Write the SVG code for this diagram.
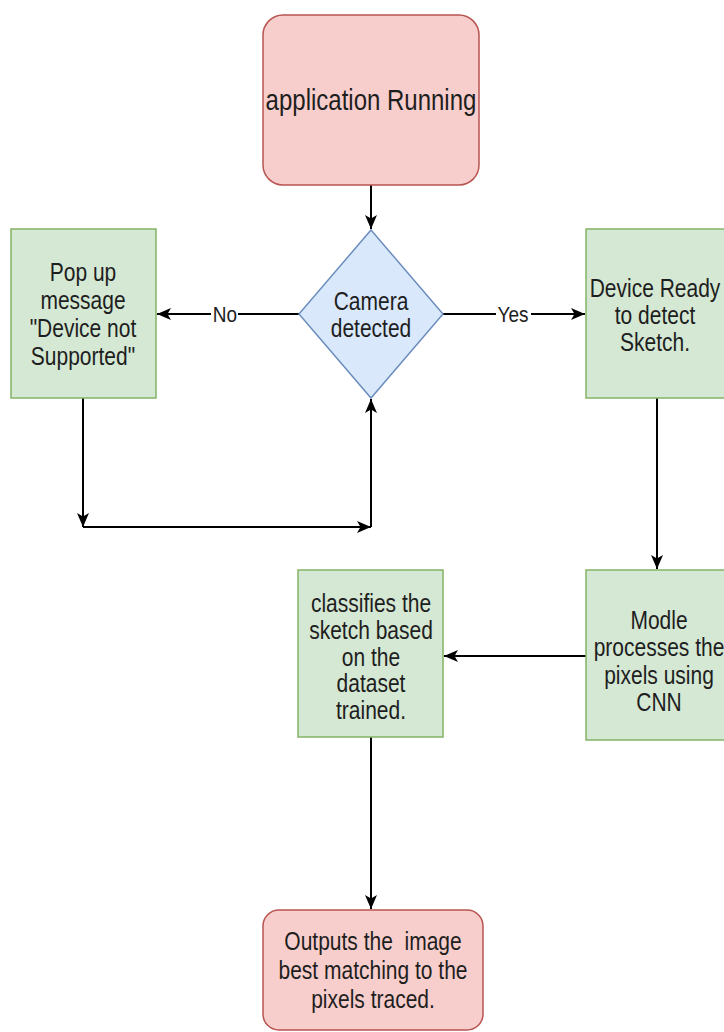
<svg xmlns="http://www.w3.org/2000/svg" width="724" height="1032" viewBox="0 0 724 1032">
<defs>
<style>
.t{font-family:"Liberation Sans",Arial,sans-serif;font-size:21px;fill:#1e1e1e;text-anchor:middle;dominant-baseline:central}
.lbl{font-family:"Liberation Sans",Arial,sans-serif;font-size:19px;fill:#1e1e1e;text-anchor:middle;dominant-baseline:central}
.red{fill:#f8cecc;stroke:#b85450;stroke-width:1.5}
.green{fill:#d5e8d4;stroke:#82b366;stroke-width:1.5}
.blue{fill:#dae8fc;stroke:#6c8ebf;stroke-width:1.5}
.edge{fill:none;stroke:#000;stroke-width:2}
</style>
<marker id="arr" markerUnits="userSpaceOnUse" markerWidth="15" markerHeight="13" refX="14" refY="6" orient="auto">
<path d="M0,0 L14,6 L0,12 L3.5,6 z" fill="#000"/>
</marker>
</defs>
<rect width="724" height="1032" fill="#fff"/>

<g id="connectors">
<path class="edge" d="M371,185 L371,229" marker-end="url(#arr)"/>
<path class="edge" d="M299,314 L157,314" marker-end="url(#arr)"/>
<path class="edge" d="M443,314 L585,314" marker-end="url(#arr)"/>
<path class="edge" d="M83,398 L83,527" marker-end="url(#arr)"/>
<path class="edge" d="M83,527 L371,527" marker-end="url(#arr)"/>
<path class="edge" d="M371,527 L371,399" marker-end="url(#arr)"/>
<path class="edge" d="M657,398 L657,569" marker-end="url(#arr)"/>
<path class="edge" d="M586,656 L444,656" marker-end="url(#arr)"/>
<path class="edge" d="M371,737 L371,909" marker-end="url(#arr)"/>
<rect x="211" y="300" width="27" height="28" fill="#fff"/>
<text class="lbl" transform="scale(1,1.2)" x="225" y="261.67">No</text>
<rect x="496" y="300" width="35" height="28" fill="#fff"/>
<text class="lbl" transform="scale(1,1.2)" x="513" y="261.67">Yes</text>
</g>

<g id="node-app-running">
<rect class="red" x="263" y="15" width="216" height="170" rx="20"/>
<text class="t" transform="scale(1,1.2)" x="371" y="83.33" style="font-size:24px">application Running</text>
</g>

<g id="node-camera">
<polygon class="blue" points="371,230 443,314 371,398 299,314"/>
<text class="t" transform="scale(1,1.2)"><tspan x="371" y="250.83">Camera</tspan><tspan x="371" y="273.33">detected</tspan></text>
</g>

<g id="node-popup">
<rect class="green" x="11" y="229" width="145" height="169"/>
<text class="t" transform="scale(1,1.2)"><tspan x="83" y="226.67">Pop up</tspan><tspan x="83" y="250">message</tspan><tspan x="83" y="273.33">"Device not</tspan><tspan x="83" y="296.67">Supported"</tspan></text>
</g>

<g id="node-ready">
<rect class="green" x="586" y="229" width="140" height="169"/>
<text class="t" transform="scale(1,1.2)"><tspan x="655" y="240">Device Ready</tspan><tspan x="655" y="262.5">to detect</tspan><tspan x="655" y="285">Sketch.</tspan></text>
</g>

<g id="node-modle">
<rect class="green" x="586" y="570" width="140" height="170"/>
<text class="t" transform="scale(1,1.2)"><tspan x="659" y="516.67">Modle</tspan><tspan x="659" y="539.17">processes the</tspan><tspan x="659" y="562.5">pixels using</tspan><tspan x="659" y="585">CNN</tspan></text>
</g>

<g id="node-classify">
<rect class="green" x="298" y="570" width="145" height="167"/>
<text class="t" transform="scale(1,1.2)"><tspan x="371" y="502.5">classifies the</tspan><tspan x="371" y="525">sketch based</tspan><tspan x="371" y="547.5">on the</tspan><tspan x="371" y="569.17">dataset</tspan><tspan x="371" y="591.67">trained.</tspan></text>
</g>

<g id="node-output">
<rect class="red" x="263" y="910" width="220" height="120" rx="16"/>
<text class="t" transform="scale(1,1.2)" style="white-space:pre"><tspan x="373" y="784.17">Outputs the  image</tspan><tspan x="373" y="808.33">best matching to the</tspan><tspan x="373" y="832.5">pixels traced.</tspan></text>
</g>
</svg>
